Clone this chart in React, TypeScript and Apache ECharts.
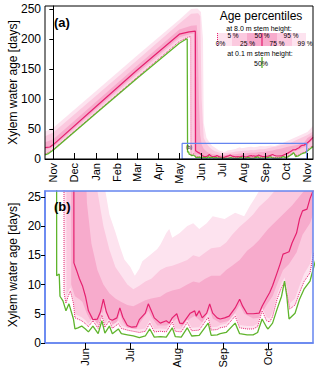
import React, { useEffect, useRef } from 'react';
import * as echarts from 'echarts';

// Days counted from 1 November; values are xylem water age in days.
const MONTH_TICKS_A = [0, 30, 61, 92, 120, 151, 181, 212, 242, 273, 304, 334, 365];
const MONTH_NAMES_A = ['Nov', 'Dec', 'Jan', 'Feb', 'Mar', 'Apr', 'May', 'Jun', 'Jul', 'Aug', 'Sep', 'Oct', 'Nov'];
const MONTH_TICKS_B = [212, 242, 273, 304, 334];
const Y_TICKS_A = [0, 50, 100, 150, 200, 250];
const Y_TICKS_B = [0, 5, 10, 15, 20, 25];
const ZOOM_X = [185, 364];
const ZOOM_Y = [0, 26];

// 8.0 m stem height percentiles
const P50_8M = [[-12,19],[-5,20],[0,24],[61,87],[120,148],[181,208],[195,212],[204,213],
[204.3,13.7],[206,12.5],[208,11],[210,9.8],[212,8],[214,5.5],[217,4],[220,4.1],[222,5.3],[224,7.5],[226,5.3],[228,4.1],[230,3.9],[233,4.3],[235,6],[237,4.4],[240,3.0],[243,2.7],[246,2.8],[248,4.0],[252,5.1],[254,6.7],[256,5.5],[258,4.3],[262,3.4],[266,3.8],[268,3.4],[270,4.3],[273,5.0],[275,3.4],[277,3.3],[282,5.1],[285,5.5],[286,4.6],[288,5.5],[290,4.3],[293,5.1],[295,6.7],[297,5.1],[300,4.3],[302,4.1],[305,4.3],[308,4.6],[312,6.0],[315,7.5],[317,6.3],[320,5.0],[324,5.0],[328,5.1],[330,6.3],[333,7.7],[335,8.6],[337,9.8],[340,12],[342,13.5],[344,15.2],[346,15.4],[348,15.6],[350,17.1],[353,18.8],[355,21.2],[357,22.6],[360,22.9],[362,24.7],[364,26],[368,30],[373,36]];

const P0_8M = [[-12,8],[0,16],[61,77],[120,136],[181,196],[193,203],[197.5,204],
[197.7,8.6],[199,6.8],[200.5,8],[202,8.9],[204,6.8],[205,4.3],[207,4.1],[209.5,3.8],[212,3.3],[214,2.8],[217,3.8],[220.5,2.5],[223,4.8],[225,2.7],[228,3.8],[230,2.5],[234,3.3],[236,2.5],[240,2.2],[244,2.0],[248,1.8],[252,2.0],[255,3.4],[258,1.9],[262,2.0],[266,1.9],[270,3.6],[272,2.0],[276,1.9],[280,3.5],[283,2.1],[288,2.2],[294,4.4],[296,2.2],[300,2.3],[302,2.6],[306,2.8],[312,4.6],[315,2.6],[320,2.4],[324,2.4],[327,2.8],[330,5.5],[333,3.8],[335,3.6],[337,4.5],[340,7.5],[343,9.5],[345,10.3],[347,8],[348.5,5.8],[352,6.5],[355,8.6],[358,10.5],[362,12],[364,14.8],[373,23]];

const P5_8M = [[-12,10],[0,18],[61,79],[120,139],[181,199],[195,205],[199,205],
[199.3,8],[200.5,8.8],[202,9.5],[204,7.5],[205,5],[207,4.7],[209.5,4.4],[212,3.9],[214,3.3],[217,4.3],[220.5,3],[223,5.4],[225,3.2],[228,4.3],[230,3],[234,3.8],[236,3],[240,2.6],[244,2.4],[248,2.3],[252,2.5],[255,3.9],[258,2.4],[262,2.5],[266,2.4],[270,4.1],[272,2.5],[276,2.4],[280,4],[283,2.6],[288,2.7],[294,4.9],[296,2.7],[300,2.8],[302,3.1],[306,3.3],[312,5.1],[315,3.1],[320,2.9],[324,2.9],[327,3.3],[330,6],[333,4.4],[335,4.2],[337,5.2],[340,8.3],[343,10.3],[345,11.2],[347,9],[348.5,6.8],[352,7.6],[355,9.8],[358,11.8],[362,13.5],[364,16.5],[373,25]];

const P25_8M = [[-12,15],[0,21],[61,83],[120,143],[181,203],[196,208],[202,209],
[202.5,10],[205,8],[208,7.5],[210,7],[213,5],[216,3.6],[220,3.3],[223,4.5],[224.5,6.2],[227,4.5],[230,3.2],[233,3.5],[235,5],[237,3.6],[240,2.6],[246,2.4],[248,3.3],[254,5.5],[256,4.5],[260,3],[266,3],[270,3.5],[273,4.2],[276,2.8],[282,4.2],[285,4.6],[290,3.5],[295,5.8],[297,4.2],[302,3.4],[308,3.8],[312,5.2],[315,6.5],[318,5],[324,4.2],[328,4.3],[330,5.2],[333,6.5],[337,8],[340,10],[344,12.5],[348,13.5],[353,15.5],[357,18.5],[362,20.5],[364,22],[373,32]];

const P75_8M = [[-12,28],[0,33],[61,95],[120,155],[181,216],[198,222],[206,223],[207.5,200],[209,100],[211,40],[213,24],[216,17],[220,12.5],[224,10],[228,8.5],[232,7.6],[236,7],[240,6.5],[244,6.3],[248,6.8],[252,7.3],[256,7.6],[262,7.9],[266,8.6],[270,9.0],[275,9.3],[280,10],[284,10.5],[288,10.3],[292,11],[296,11.5],[302,11.5],[306,12.5],[310,13.2],[315,14.2],[320,15.8],[324,16.6],[328,17.6],[334,19.5],[342,21.5],[350,23.5],[357,25.7],[360,26.5],[365,35],[373,41]];

const P95_8M = [[-12,38],[0,44],[61,105],[120,164],[181,226],[198,242],[208,243],[211,238],[213,100],[216,35],[220,26],[224,20],[228,16],[232,13],[236,11.5],[240,10],[244,9.2],[248,9.8],[252,10.5],[256,11],[262,12.5],[266,13],[270,13.2],[275,13.7],[280,14.2],[284,15],[288,14.7],[292,15.5],[296,16.2],[302,16.4],[306,17.2],[310,18.5],[315,19.9],[320,21],[324,22],[328,23.3],[334,24.7],[340,26.5],[365,40],[373,46]];

const P99_8M = [[-12,46],[0,52],[61,113],[120,172],[181,232],[198,250],[207,251],[212,245],[215,200],[216,60],[220,35],[225,26.5],[228,22],[232,19],[235,16.5],[238,14.3],[242,13],[245,11.5],[248,12.7],[250,14],[255,15],[260,16.1],[262,16.8],[264,17.8],[266,18.8],[268,19.5],[270,18],[275,18.8],[280,20],[284,20.5],[288,19.5],[293,20.5],[297,21.7],[302,21.4],[305,21.2],[308,21.7],[312,22.3],[315,22],[318,21.7],[322,23.5],[325,24.7],[328,26],[331,27.5],[340,32],[365,45],[373,55]];

// 0.1 m stem height median
const P50_01M = [[-12,7],[-7,9],[0,15],[61,76],[120,134],[181,193],[191,200],[192.3,200],
[192.8,11.5],[194.5,11.8],[195,8.0],[197,7.2],[199,5.5],[201,6.7],[204,4.1],[205,2.4],[207,2.6],[209.5,2.9],[212,2.4],[214,1.9],[217,2.9],[220.5,1.6],[223,3.8],[225,1.7],[228,2.9],[230,1.6],[234,2.4],[236,1.6],[240,1.4],[244,1.2],[248,0.9],[252,1.2],[255,2.4],[258,1.0],[262,1.1],[266,1.0],[270,2.6],[272,1.1],[276,1.0],[280,2.6],[283,1.2],[288,1.3],[294,3.4],[296,1.3],[300,1.4],[302,1.6],[306,1.8],[312,3.4],[315,1.6],[320,1.4],[324,1.4],[327,1.8],[330,4.1],[333,2.7],[334,2.4],[337,3.4],[340,5.8],[343,8.0],[345,10.6],[346.5,8],[348,4.1],[352,5.1],[355,7.5],[358,9.2],[362,10.6],[364,12.5],[373,21]];

const C_LIGHTEST = '#fde3ef';
const C_LIGHT = '#fbc9df';
const C_MEDIUM = '#f7abcc';
const C_MEDIAN = '#e5216f';
const C_GREEN = '#5fb42c';
const C_BLUE = '#6585f0';
const FONT = 'Liberation Sans, Arial, Helvetica, sans-serif';

function monthName(ticks: number[], names: string[]) {
  return (v: number) => {
    const i = ticks.findIndex((t) => Math.abs(t - v) < 0.01);
    return i >= 0 ? names[i] : '';
  };
}

function panelSeries(g: number) {
  const area = (data: number[][], color: string) => ({
    type: 'line', xAxisIndex: g, yAxisIndex: g, data, symbol: 'none', showSymbol: false,
    lineStyle: { width: 0 }, areaStyle: { color, opacity: 1 }, silent: true, z: 2,
  });
  return [
    area(P99_8M, C_LIGHTEST),
    area(P95_8M, C_LIGHT),
    area(P75_8M, C_MEDIUM),
    area(P25_8M, C_LIGHT),
    area(P5_8M, C_LIGHTEST),
    area(P0_8M, '#ffffff'),
    { type: 'line', xAxisIndex: g, yAxisIndex: g, data: P0_8M, symbol: 'none', silent: true, z: 3,
      lineStyle: { color: C_MEDIAN, width: 1, type: 'dotted' } },
    { type: 'line', xAxisIndex: g, yAxisIndex: g, data: P50_8M, symbol: 'none', silent: true, z: 3,
      lineStyle: { color: C_MEDIAN, width: 1.2 } },
    { type: 'line', xAxisIndex: g, yAxisIndex: g, data: P50_01M, symbol: 'none', silent: true, z: 3,
      lineStyle: { color: C_GREEN, width: 1.3 } },
  ];
}

const legendText = (text: string, x: number, y: number) => ({
  type: 'text', x, y, z: 21,
  style: { text, fontSize: 6.5, fontFamily: FONT, fill: '#000', align: 'center', verticalAlign: 'middle' },
});

export default function App() {
  const ref = useRef<HTMLDivElement>(null);
  useEffect(() => {
    const chart = echarts.init(ref.current!, null, { renderer: 'svg' });
    const yAxisCommon = {
      type: 'value', z: 10,
      axisLine: { show: true, lineStyle: { color: '#000', width: 1 } },
      axisTick: { show: true, inside: false, length: 4, lineStyle: { color: '#000' } },
      axisLabel: { color: '#000', fontSize: 12, fontFamily: FONT, margin: 4 },
      splitLine: { show: false },
    };
    const option: any = {
      animation: false,
      backgroundColor: '#fff',
      grid: [
        { left: 45, top: 6, width: 268, height: 153, show: true, borderColor: '#000', borderWidth: 1, z: 10, backgroundColor: 'transparent' },
        { left: 45, top: 191, width: 268, height: 152, show: true, borderColor: C_BLUE, borderWidth: 1.5, z: 10, backgroundColor: 'transparent' },
      ],
      xAxis: [
        { type: 'value', gridIndex: 0, min: -12, max: 373, z: 10,
          axisLine: { show: true, onZero: false, lineStyle: { color: '#000' } },
          axisTick: { show: true, inside: true, length: 6, customValues: MONTH_TICKS_A, lineStyle: { color: '#000' } },
          axisLabel: { show: true, rotate: 90, fontSize: 11, color: '#000', fontFamily: FONT, margin: 4,
            customValues: MONTH_TICKS_A, formatter: monthName(MONTH_TICKS_A, MONTH_NAMES_A) },
          splitLine: { show: false } },
        { type: 'value', gridIndex: 1, min: ZOOM_X[0], max: ZOOM_X[1], z: 10,
          axisLine: { show: true, onZero: false, lineStyle: { color: C_BLUE, width: 1.5 } },
          axisTick: { show: true, inside: false, length: 6, customValues: MONTH_TICKS_B, lineStyle: { color: '#000' } },
          axisLabel: { show: true, rotate: 90, fontSize: 11, color: '#000', fontFamily: FONT, margin: 5,
            customValues: MONTH_TICKS_B, formatter: monthName(MONTH_TICKS_A, MONTH_NAMES_A) },
          splitLine: { show: false } },
      ],
      yAxis: [
        { ...yAxisCommon, gridIndex: 0, min: 0, max: 255,
          axisTick: { ...yAxisCommon.axisTick, customValues: Y_TICKS_A },
          axisLabel: { ...yAxisCommon.axisLabel, customValues: Y_TICKS_A } },
        { ...yAxisCommon, gridIndex: 1, min: ZOOM_Y[0], max: ZOOM_Y[1],
          axisLine: { show: true, lineStyle: { color: C_BLUE, width: 1.5 } },
          axisTick: { ...yAxisCommon.axisTick, customValues: Y_TICKS_B },
          axisLabel: { ...yAxisCommon.axisLabel, customValues: Y_TICKS_B } },
      ],
      series: [
        ...panelSeries(0),
        { type: 'line', xAxisIndex: 0, yAxisIndex: 0, symbol: 'none', silent: true, z: 4,
          data: [[ZOOM_X[0], ZOOM_Y[0]], [ZOOM_X[1], ZOOM_Y[0]], [ZOOM_X[1], ZOOM_Y[1]], [ZOOM_X[0], ZOOM_Y[1]], [ZOOM_X[0], ZOOM_Y[0]]],
          lineStyle: { color: C_BLUE, width: 1.2 } },
        ...panelSeries(1),
      ],
      graphic: [
        { type: 'text', x: 12.5, y: 82.5, rotation: Math.PI / 2, style: { text: 'Xylem water age [days]', fontSize: 12, fontFamily: FONT, fill: '#000', align: 'center', verticalAlign: 'middle' } },
        { type: 'text', x: 12.5, y: 265, rotation: Math.PI / 2, style: { text: 'Xylem water age [days]', fontSize: 12, fontFamily: FONT, fill: '#000', align: 'center', verticalAlign: 'middle' } },
        { type: 'text', x: 54, y: 22, z: 20, style: { text: '(a)', fontSize: 13, fontWeight: 'bold', fontFamily: FONT, fill: '#000', align: 'left', verticalAlign: 'middle' } },
        { type: 'text', x: 54, y: 206, z: 20, style: { text: '(b)', fontSize: 13, fontWeight: 'bold', fontFamily: FONT, fill: '#000', align: 'left', verticalAlign: 'middle' } },
        { type: 'text', x: 186, y: 147, z: 20, style: { text: '(b)', fontSize: 5, fontFamily: FONT, fill: '#000', align: 'left', verticalAlign: 'middle' } },
        // legend
        { type: 'text', x: 261, y: 16, z: 20, style: { text: 'Age percentiles', fontSize: 12, fontFamily: FONT, fill: '#000', align: 'center', verticalAlign: 'middle' } },
        { type: 'text', x: 259, y: 28.5, z: 20, style: { text: 'at 8.0 m stem height:', fontSize: 7, fontFamily: FONT, fill: '#000', align: 'center', verticalAlign: 'middle' } },
        { type: 'rect', z: 19, shape: { x: 217, y: 33, width: 15, height: 13 }, style: { fill: C_LIGHTEST } },
        { type: 'rect', z: 19, shape: { x: 232, y: 33, width: 15, height: 13 }, style: { fill: C_LIGHT } },
        { type: 'rect', z: 19, shape: { x: 247, y: 33, width: 30, height: 13 }, style: { fill: C_MEDIUM } },
        { type: 'rect', z: 19, shape: { x: 277, y: 33, width: 15, height: 13 }, style: { fill: C_LIGHT } },
        { type: 'rect', z: 19, shape: { x: 292, y: 33, width: 14, height: 13 }, style: { fill: C_LIGHTEST } },
        { type: 'line', z: 20, shape: { x1: 262, y1: 33, x2: 262, y2: 46 }, style: { stroke: C_MEDIAN, lineWidth: 1.2 } },
        { type: 'line', z: 20, shape: { x1: 217.5, y1: 33, x2: 217.5, y2: 46 }, style: { stroke: C_MEDIAN, lineWidth: 1, lineDash: [1, 1] } },
        legendText('0%', 220.5, 43),
        legendText('5 %', 233, 35.5),
        legendText('25 %', 247.5, 43),
        legendText('50 %', 262, 35.5),
        legendText('75 %', 277, 43),
        legendText('95 %', 291, 35.5),
        legendText('99 %', 305, 43),
        { type: 'text', x: 260, y: 53, z: 20, style: { text: 'at 0.1 m stem height:', fontSize: 7, fontFamily: FONT, fill: '#000', align: 'center', verticalAlign: 'middle' } },
        { type: 'line', z: 20, shape: { x1: 262, y1: 57, x2: 262, y2: 68 }, style: { stroke: C_GREEN, lineWidth: 1.3 } },
        { type: 'text', x: 261, y: 63, z: 21, style: { text: '50%', fontSize: 7, fontFamily: FONT, fill: '#000', align: 'center', verticalAlign: 'middle' } },
      ],
    };
    chart.setOption(option);
    return () => chart.dispose();
  }, []);
  return <div ref={ref} style={{ position: 'fixed', left: 0, top: 0, width: 320, height: 372 }} />;
}
